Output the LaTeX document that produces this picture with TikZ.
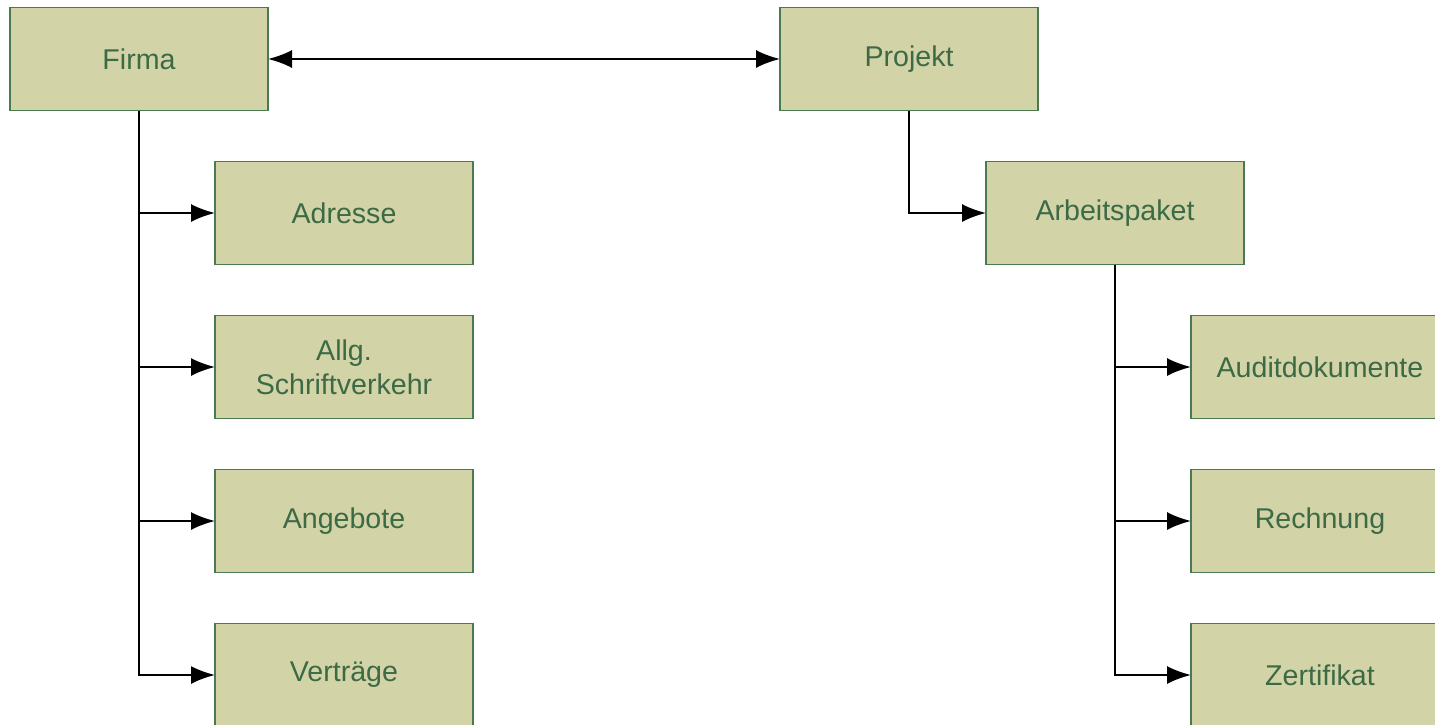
\documentclass[tikz,border=0pt]{standalone}
\usepackage{fontspec}
\setmainfont{Liberation Sans}
\usetikzlibrary{positioning}
\usetikzlibrary{arrows.meta}
\definecolor{boxfill}{RGB}{211,211,168}
\definecolor{boxline}{RGB}{74,122,82}
\definecolor{boxtext}{RGB}{60,106,69}
\tikzset{
    mybox/.style={
        draw=boxline,fill=boxfill,text=boxtext,
        rectangle,line width=.8pt,
        minimum width=129pt,minimum height=51.5pt,
        inner sep=0pt,outer sep=0pt,
        align=center,
        font=\fontsize{14.3}{17}\selectfont,
        },
    myarrow/.style={
        black,line width=1pt,
        -{Latex[length=12pt,width=9pt]},
        },
    mydoublearrow/.style={
        black,line width=1pt,
        {Latex[length=12pt,width=9pt]}-{Latex[length=12pt,width=9pt]},
        }
    }

\begin{document}
\begin{tikzpicture}[x=.5pt,y=-.5pt]
    \clip (0,0) rectangle (1435,724);
    \useasboundingbox (0,0) rectangle (1435,724);
    \node[mybox] (Firma) at (139,59) {Firma};
    \node[mybox] (Projekt) [right=256pt of Firma] {Projekt};
    % left branch
    \node[mybox,anchor=north west] (Adresse) at ([xshift=-26.5pt,yshift=-25.5pt]Firma.south east) {Adresse};
    \node[mybox] (Schrift) [below=25.5pt of Adresse] {Allg.\\Schriftverkehr};
    \node[mybox] (Angebote) [below=25.5pt of Schrift] {Angebote};
    \node[mybox] (Vertraege) [below=25.5pt of Angebote] {Verträge};
    % right branch
    \node[mybox,anchor=north west] (Paket) at ([xshift=-26pt,yshift=-25.5pt]Projekt.south east) {Arbeitspaket};
    \node[mybox,anchor=north west] (Audit) at ([xshift=-26.5pt,yshift=-25.5pt]Paket.south east) {Auditdokumente};
    \node[mybox] (Rechnung) [below=25.5pt of Audit] {Rechnung};
    \node[mybox] (Zertifikat) [below=25.5pt of Rechnung] {Zertifikat};
    % connectors
    \draw[mydoublearrow] (Firma) -- (Projekt);
    \draw[myarrow] (Firma.south) |- (Vertraege.west);
    \foreach \n in {Adresse,Schrift,Angebote}
        \draw[myarrow] (Firma.south |- \n.west) -- (\n.west);
    \draw[myarrow] (Projekt.south) |- (Paket.west);
    \draw[myarrow] (Paket.south) |- (Zertifikat.west);
    \foreach \n in {Audit,Rechnung}
        \draw[myarrow] (Paket.south |- \n.west) -- (\n.west);
\end{tikzpicture}
\end{document}
